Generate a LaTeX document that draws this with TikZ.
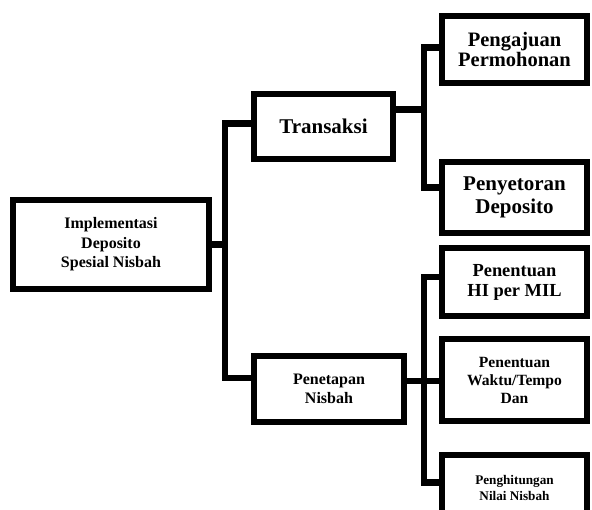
\documentclass[tikz,border=0pt]{standalone}
\usepackage{fontspec}
\setmainfont{Liberation Serif}
\usepackage{tikz}
\usetikzlibrary{positioning}

\begin{document}
\begin{tikzpicture}[
  x=1pt, y=-1pt,
  font=\bfseries,
  box/.style={draw, line width=6pt, align=center, inner sep=2pt, fill=white},
  link/.style={line width=6.5pt},
  fs/.style 2 args={font=\bfseries\fontsize{#1}{#2}\selectfont}
]
\useasboundingbox (0,0) rectangle (592,510);
\node[box, fs={16}{19.5}, minimum width=196pt, minimum height=89pt] (root) at (111,244.5)
  {Implementasi\\Deposito\\Spesial Nisbah};
\node[box, fs={21}{25}, minimum width=139pt, minimum height=65pt] (trans) at (323.5,126.5)
  {Transaksi};
\node[box, fs={16}{19}, minimum width=150pt, minimum height=66pt] (tetap) at (329,389)
  {Penetapan\\Nisbah};
\node[box, fs={20.5}{20}, minimum width=145pt, minimum height=67pt] (aju) at (514.5,49.5)
  {Pengajuan\\Permohonan};
\node[box, fs={21}{23}, minimum width=145pt, minimum height=71pt] (setor) at (514.5,197.5)
  {Penyetoran\\Deposito};
\node[box, fs={18.4}{20}, minimum width=145pt, minimum height=68pt] (hi) at (514.5,282)
  {Penentuan\\HI per MIL};
\node[box, fs={15.6}{18}, minimum width=145pt, minimum height=82pt] (waktu) at (514.5,380)
  {Penentuan\\Waktu/Tempo\\Dan};
\node[box, fs={13.2}{16}, minimum width=145pt, minimum height=65pt] (hitung) at (514.5,487.5)
  {Penghitungan\\Nilai Nisbah};
% connectors
\draw[link] (root.east) -- ++(13,0) coordinate (j1);
\draw[link] ([yshift=3pt]trans.west) -| (j1) |- ([yshift=11pt]tetap.west);
\draw[link] ([yshift=17pt]trans.east) -- ++(28,0) coordinate (j2);
\draw[link] ([yshift=2pt]aju.west) -| (j2) |- ([yshift=10pt]setor.west);
\draw[link] ([yshift=8pt]tetap.east) coordinate (j3) -- (j3 -| waktu.west);
\draw[link] ([yshift=5pt]hi.west) -- ++(-15,0) |- ([yshift=5pt]hitung.west);
\end{tikzpicture}
\end{document}
